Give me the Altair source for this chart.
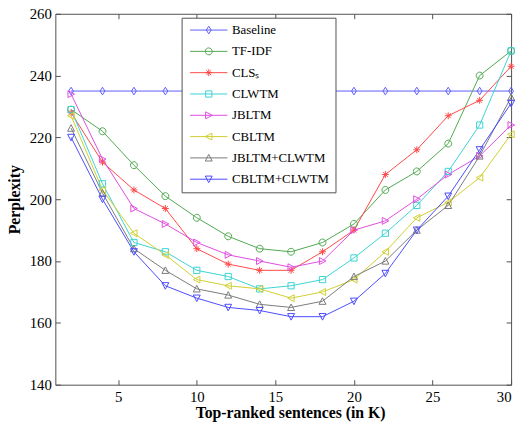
import altair as alt
import pandas as pd

# ---- data ----
k_values = [2, 4, 6, 8, 10, 12, 14, 16, 18, 20, 22, 24, 26, 28, 30]

series_names = ["Baseline", "TF-IDF", "CLSₛ", "CLWTM", "JBLTM", "CBLTM",
                "JBLTM+CLWTM", "CBLTM+CLWTM"]

baseline    = [235, 235, 235, 235, 235, 235, 235, 235, 235, 235, 235, 235, 235, 235, 235]
tf_idf      = [229, 222, 211, 201, 194, 188, 184, 183, 186, 192, 203, 209, 218, 240, 248]
cls_s       = [228, 212, 203, 197, 184, 179, 177, 177, 183, 190, 208, 216, 227, 232, 243]
clwtm       = [229, 205, 186, 183, 177, 175, 171, 172, 174, 181, 189, 198, 209, 224, 248]
jbltm       = [234, 213, 197, 192, 186, 182, 180, 178, 180, 190, 193, 200, 208, 214, 224]
cbltm       = [227, 203, 189, 182, 174, 172, 171, 168, 170, 174, 183, 194, 199, 207, 221]
jbltm_clwtm = [223, 202, 184, 177, 171, 169, 166, 165, 167, 175, 180, 190, 198, 214, 233]
cbltm_clwtm = [220, 200, 183, 172, 168, 165, 164, 162, 162, 167, 176, 190, 201, 216, 231]

all_series = [baseline, tf_idf, cls_s, clwtm, jbltm, cbltm, jbltm_clwtm, cbltm_clwtm]

x_ticks = [5, 10, 15, 20, 25, 30]
y_ticks = [140, 160, 180, 200, 220, 240, 260]

# ---- styling ----
colors = ["#5c5cff", "#4fa84f", "#ff4848", "#3cd2d2", "#e04ce0", "#cfcf30", "#7a7a7a", "#4a4aff"]

marker_paths = [
    "M0,-1.1L0.7,0L0,1.1L-0.7,0Z",                                   # diamond
    "M1,0A1,1 0 1,1 -1,0A1,1 0 1,1 1,0Z",                             # circle
    "M-1,0L1,0M0,-1L0,1M-0.7,-0.7L0.7,0.7M-0.7,0.7L0.7,-0.7",         # asterisk
    "M-0.9,-0.9L0.9,-0.9L0.9,0.9L-0.9,0.9Z",                          # square
    "M-0.9,-1L1,0L-0.9,1Z",                                          # triangle right
    "M0.9,-1L-1,0L0.9,1Z",                                           # triangle left
    "M0,-1L1,0.9L-1,0.9Z",                                           # triangle up
    "M0,1L1,-0.9L-1,-0.9Z",                                          # triangle down
]
legend_paths = ["M-5.4,0L5.4,0" + p for p in marker_paths]

rows = []
for name, vals in zip(series_names, all_series):
    for k, v in zip(k_values, vals):
        rows.append({"series": name, "k": k, "ppl": v})
df = pd.DataFrame(rows)

W, H = 462, 376
FONT = "Liberation Serif"
FRAME = "#505050"

xs = alt.Scale(domain=[1, 30], nice=False, zero=False)
ys = alt.Scale(domain=[140, 260], nice=False, zero=False)
cscale = alt.Scale(domain=series_names, range=colors)


def tick_axis(orient, offset, values):
    return alt.Axis(orient=orient, offset=offset, values=values, labels=False,
                    domain=False, grid=False, ticks=True, tickSize=5,
                    tickColor=FRAME, title=None)


base = alt.Chart(df)

lines = base.mark_line(strokeWidth=1).encode(
    x=alt.X("k:Q", scale=xs, axis=alt.Axis(
        orient="bottom", values=x_ticks, ticks=False, domain=False, grid=False,
        labelPadding=5, title="Top-ranked sentences (in K)",
        titleX=238, titleY=33, titleBaseline="alphabetic")),
    y=alt.Y("ppl:Q", scale=ys, axis=alt.Axis(
        orient="left", values=y_ticks, ticks=False, domain=False, grid=False,
        labelPadding=4, title="Perplexity", titleAngle=270,
        titleX=-36, titleY=H / 2, titleBaseline="alphabetic", titleAlign="center")),
    color=alt.Color("series:N", scale=cscale, legend=None),
)

points = base.mark_point(filled=False, size=49, strokeWidth=1, opacity=1).encode(
    x=alt.X("k:Q", scale=xs, axis=tick_axis("top", -H, x_ticks)),
    y=alt.Y("ppl:Q", scale=ys, axis=tick_axis("right", -W, y_ticks)),
    color=alt.Color("series:N", scale=cscale, legend=None),
    shape=alt.Shape("series:N", scale=alt.Scale(domain=series_names, range=marker_paths),
                    legend=None),
)

leg = alt.Legend(orient="none", legendX=128, legendY=4, title=None,
                 padding=6, fillColor="white", strokeColor=FRAME,
                 labelFont=FONT, labelFontSize=13, labelFontWeight="normal",
                 labelColor="black",
                 symbolSize=49, symbolStrokeWidth=1, symbolOffset=15,
                 labelOffset=17, rowPadding=7.6)

legend_layer = base.transform_filter("false").mark_point(
    filled=False, size=49, strokeWidth=1, opacity=1).encode(
    x=alt.X("k:Q", scale=xs, axis=tick_axis("bottom", -H, x_ticks)),
    y=alt.Y("ppl:Q", scale=ys, axis=tick_axis("left", -W, y_ticks)),
    color=alt.Color("series:N", scale=cscale, legend=leg),
    shape=alt.Shape("series:N", scale=alt.Scale(domain=series_names, range=legend_paths),
                    legend=leg),
)

chart = alt.layer(lines, points, legend_layer).resolve_scale(
    color="independent", shape="independent"
).resolve_axis(
    x="independent", y="independent"
).properties(
    width=W, height=H,
    autosize=alt.AutoSizeParams(type="none"),
    padding={"left": 48, "top": 3, "right": 7, "bottom": 37},
).configure_view(
    stroke=FRAME, strokeWidth=1
).configure_axis(
    labelFont=FONT, labelFontSize=15, labelColor="black",
    titleFont=FONT, titleFontSize=16, titleFontWeight="bold", titleColor="black",
)

chart.save("out.html", embed_options={"renderer": "svg", "actions": False})
